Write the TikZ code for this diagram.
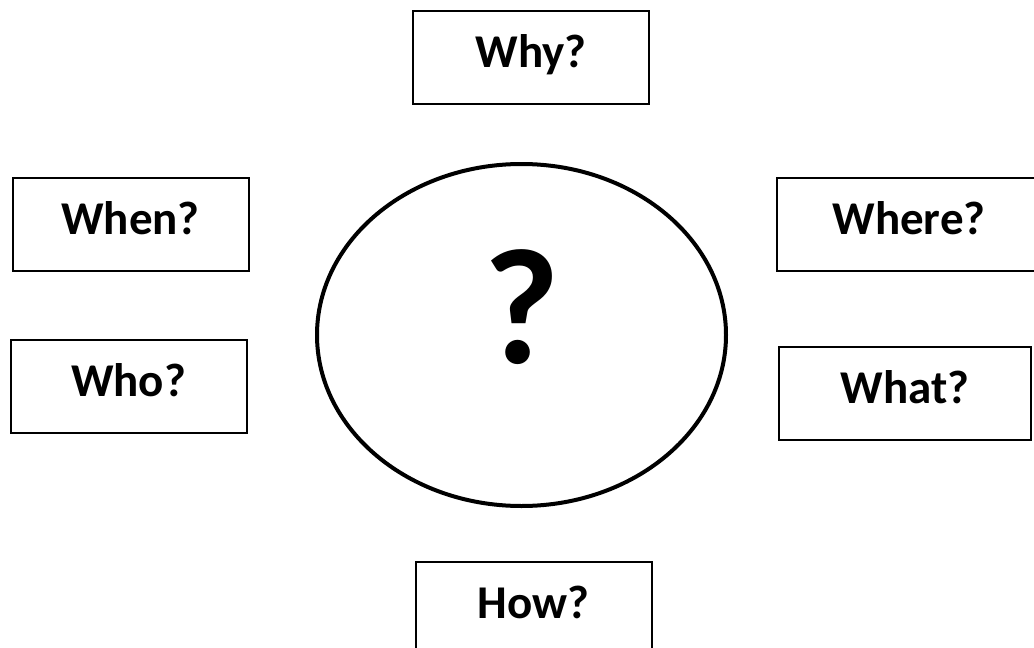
\documentclass[tikz,border=0pt]{standalone}
\usepackage{fontspec}
\setmainfont{Carlito}
\usetikzlibrary{shapes.geometric}
\tikzset{
  qbox/.style={draw=black, line width=2pt, minimum width=236pt, minimum height=93pt,
    inner sep=0pt, font=\bfseries\fontsize{47}{56}\selectfont, text height=30pt, text depth=0pt},
  bigoval/.style={draw=black, line width=4pt, ellipse, minimum width=409pt, minimum height=342pt, inner sep=0pt}
}
\newcommand{\up}[1]{\raisebox{5pt}{#1}}
\begin{document}
\begin{tikzpicture}[x=1pt,y=-1pt]
\useasboundingbox (0,0) rectangle (1034,648);
\node[bigoval] (oval) at (521.5,335) {};
\node[font=\bfseries\fontsize{165}{190}\selectfont, anchor=base, inner sep=0pt] (qmark) at (522,363) {?};
\node[qbox] (why) at (531,57) {\up{Why?}};
\node[qbox] (when) at (130.5,224) {\up{When?}};
\node[qbox, minimum width=264pt] (where) at (909,224) {\up{Where?}};
\node[qbox] (who) at (128.5,386) {\up{Who?}};
\node[qbox, minimum width=252pt] (what) at (905,393.5) {\up{What?}};
\node[qbox] (how) at (533.5,608) {\up{How?}};
\end{tikzpicture}
\end{document}
